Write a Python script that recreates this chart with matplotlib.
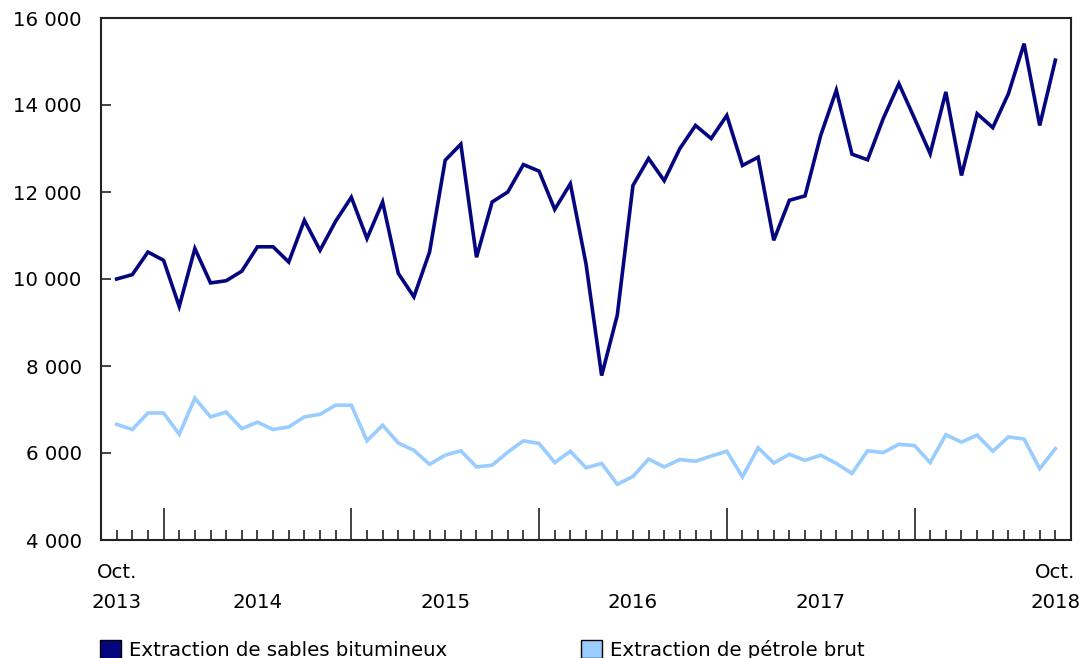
import matplotlib
matplotlib.use("Agg")
import matplotlib.pyplot as plt
from matplotlib.patches import Patch
from matplotlib.ticker import FixedLocator, FuncFormatter
import matplotlib.transforms as mtrans

# Monthly data, Oct 2013 .. Oct 2018 (61 months)
oil_sands = [10000, 10100, 10620, 10430, 9370, 10700, 9910, 9960, 10180, 10740,
             10740, 10390, 11350, 10660, 11330, 11880, 10930, 11770, 10130, 9590,
             10620, 12730, 13100, 10500, 11770, 12000, 12630, 12480, 11600, 12190,
             10350, 7780, 9170, 12150, 12770, 12260, 13000, 13530, 13230, 13760,
             12610, 12800, 10890, 11810, 11910, 13300, 14340, 12870, 12740, 13690,
             14490, 13690, 12880, 14300, 12380, 13800, 13480, 14260, 15410, 13530,
             15030]
crude_oil = [6660, 6540, 6920, 6920, 6430, 7260, 6830, 6940, 6560, 6710,
             6540, 6600, 6830, 6890, 7100, 7100, 6280, 6640, 6230, 6060,
             5740, 5950, 6050, 5680, 5720, 6020, 6280, 6220, 5780, 6040,
             5660, 5760, 5280, 5460, 5860, 5680, 5850, 5810, 5930, 6040,
             5450, 6120, 5770, 5970, 5830, 5950, 5760, 5530, 6050, 6010,
             6200, 6170, 5780, 6420, 6250, 6410, 6040, 6370, 6320, 5640,
             6100]
series_names = ["Extraction de sables bitumineux", "Extraction de pétrole brut"]
colors = ["#05057f", "#99ccff"]
year_labels = ["2014", "2015", "2016", "2017"]
year_label_idx = [9, 21, 33, 45]
jan_idx = [3, 15, 27, 39, 51]
yticks = [4000, 6000, 8000, 10000, 12000, 14000, 16000]

plt.rcParams['font.family'] = ['DejaVu Sans']
FS = 14.2

fig = plt.figure(figsize=(10.82, 6.58), dpi=100)
ax = fig.add_axes([101/1082, 1-540/658, (1071-101)/1082, (540-18)/658])

months = list(range(len(oil_sands)))
ax.plot(months, oil_sands, color=colors[0], lw=2.6, solid_joinstyle='miter')
ax.plot(months, crude_oil, color=colors[1], lw=2.6, solid_joinstyle='miter')

ax.set_xlim(-1, len(months))
ax.set_ylim(4000, 16000)

ax.yaxis.set_major_locator(FixedLocator(yticks))
ax.yaxis.set_major_formatter(FuncFormatter(lambda v, p: f"{int(v):,}".replace(",", " ")))
ax.tick_params(axis='y', direction='in', length=7.5, width=1.2, pad=14, labelsize=FS,
               colors='#222222', labelcolor='black')

ax.xaxis.set_major_locator(FixedLocator(jan_idx))
ax.xaxis.set_minor_locator(FixedLocator([m for m in months if m not in jan_idx]))
ax.tick_params(axis='x', which='major', direction='in', length=23, width=1.2,
               labelbottom=False, colors='#222222')
ax.tick_params(axis='x', which='minor', direction='in', length=7.5, width=1.2,
               colors='#222222')

for s in ax.spines.values():
    s.set_linewidth(1.5)
    s.set_color('#222222')

trans = mtrans.blended_transform_factory(ax.transData, fig.transFigure)
y1 = 1 - 573/658
y2 = 1 - 603/658
ax.text(0, y1, "Oct.", transform=trans, ha='center', va='center', fontsize=FS)
ax.text(0, y2, "2013", transform=trans, ha='center', va='center', fontsize=FS)
ax.text(months[-1], y1, "Oct.", transform=trans, ha='center', va='center', fontsize=FS)
ax.text(months[-1], y2, "2018", transform=trans, ha='center', va='center', fontsize=FS)
for lab, idx in zip(year_labels, year_label_idx):
    ax.text(idx, y2, lab, transform=trans, ha='center', va='center', fontsize=FS)

legend_x = [100/1082, 581/1082]
for name, col, lx in zip(series_names, colors, legend_x):
    h = Patch(facecolor=col, edgecolor='black', linewidth=1.0)
    fig.legend(handles=[h], labels=[name], loc='center left',
               bbox_to_anchor=(lx, 1-650/658), frameon=False, fontsize=FS,
               borderpad=0, borderaxespad=0, handlelength=1.05, handleheight=1.05,
               handletextpad=0.42)

fig.savefig("out.png", dpi=100)
